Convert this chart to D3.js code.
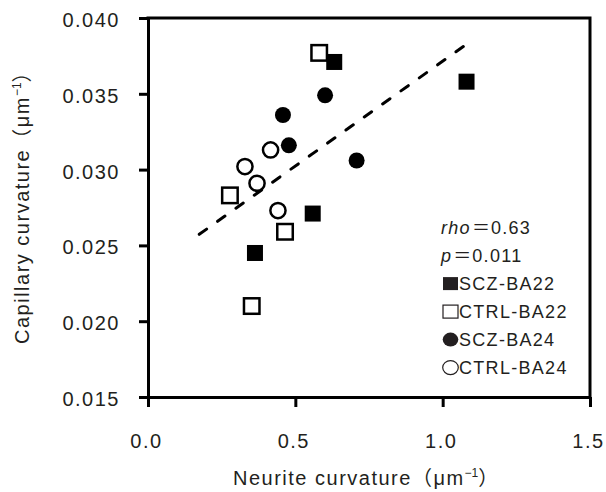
<!DOCTYPE html>
<html>
<head>
<meta charset="utf-8">
<script src="https://cdn.jsdelivr.net/npm/d3@7"></script>
<style>
  body { margin: 0; background: #fff; }
  svg { display: block; font-family: "Liberation Sans", Arial, "Noto Sans CJK JP", sans-serif; }
</style>
</head>
<body>
<svg id="chart" width="606" height="492"></svg>
<script>
// values
const sczBA22X = [0.632, 1.081, 0.559, 0.363];
const sczBA22Y = [0.0371, 0.0358, 0.0271, 0.0245];
const ctrlBA22X = [0.581, 0.278, 0.465, 0.352];
const ctrlBA22Y = [0.0377, 0.0283, 0.0259, 0.0210];
const sczBA24X = [0.601, 0.458, 0.478, 0.708];
const sczBA24Y = [0.0349, 0.0336, 0.0316, 0.0306];
const ctrlBA24X = [0.329, 0.416, 0.370, 0.441];
const ctrlBA24Y = [0.0302, 0.0313, 0.0291, 0.0273];

// dashed fit line end points
const fitX = [0.174, 1.079];
const fitY = [0.02573, 0.03824];

const xTicks = [0, 0.5, 1.0, 1.5];
const yTicks = [0.015, 0.020, 0.025, 0.030, 0.035, 0.040];
const statLines = [['rho', '0.63'], ['p', '0.011']];
const groups = ['SCZ-BA22', 'CTRL-BA22', 'SCZ-BA24', 'CTRL-BA24'];

const ink = '#231f20';
const svg = d3.select('#chart');

const x = d3.scaleLinear().domain([0, 1.5]).range([148, 590]);
const y = d3.scaleLinear().domain([0.015, 0.040]).range([397, 18]);

// frame (top / right)
svg.append('path')
    .attr('d', d3.line()([[x(0), y(0.040)], [x(1.5), y(0.040)], [x(1.5), y(0.015)]]))
    .attr('fill', 'none')
    .attr('stroke', '#000')
    .attr('stroke-width', 3)
    .attr('stroke-linecap', 'square');

const yAxis = svg.append('g')
    .attr('transform', 'translate(' + x(0) + ',0)')
    .call(d3.axisLeft(y).tickValues(yTicks).tickFormat(d3.format('.3f'))
        .tickSize(9).tickSizeOuter(0).tickPadding(19));

const xAxis = svg.append('g')
    .attr('transform', 'translate(0,' + y(0.015) + ')')
    .call(d3.axisBottom(x).tickValues(xTicks).tickFormat(d3.format('.1f'))
        .tickSize(10).tickSizeOuter(0));

[yAxis, xAxis].forEach(g => {
    g.select('.domain').attr('stroke', '#000').attr('stroke-width', 3);
    g.selectAll('.tick line').attr('stroke', '#000').attr('stroke-width', 3);
    g.selectAll('.tick text')
        .attr('fill', ink)
        .style('font-size', '20px')
        .style('letter-spacing', '1.5px');
});
yAxis.selectAll('.tick text').attr('dy', '8.5');
xAxis.selectAll('.tick text').attr('y', 51).attr('dy', 0).attr('dx', -2);

// axis titles
function title(sel, label) {
    sel.attr('fill', ink).style('font-size', '20px').style('letter-spacing', '1.5px');
    sel.append('tspan').text(label + '（μm');
    sel.append('tspan').attr('dy', -8).style('font-size', '12px').style('letter-spacing', '0px').text('−1');
    sel.append('tspan').attr('dy', 8).text('）');
}
svg.append('text').attr('x', 233).attr('y', 485).call(title, 'Neurite curvature');
svg.append('text').attr('transform', 'translate(29,344) rotate(-90)').call(title, 'Capillary curvature');

// fit line
svg.append('path')
    .attr('d', d3.line()(fitX.map((v, i) => [x(v), y(fitY[i])])))
    .attr('fill', 'none')
    .attr('stroke', '#000')
    .attr('stroke-width', 3)
    .attr('stroke-dasharray', '9,13.5')
    .attr('stroke-linecap', 'round');

// points
const pts = (xs, ys) => xs.map((v, i) => [v, ys[i]]);

svg.selectAll('.ctrl22')
    .data(pts(ctrlBA22X, ctrlBA22Y))
    .enter().append('rect')
    .attr('x', d => x(d[0]) - 7.75)
    .attr('y', d => y(d[1]) - 7.75)
    .attr('width', 15.5).attr('height', 15.5)
    .attr('fill', '#fff').attr('stroke', '#000').attr('stroke-width', 2.5);

svg.selectAll('.scz22')
    .data(pts(sczBA22X, sczBA22Y))
    .enter().append('rect')
    .attr('x', d => x(d[0]) - 8)
    .attr('y', d => y(d[1]) - 8)
    .attr('width', 16).attr('height', 16)
    .attr('fill', '#000');

svg.selectAll('.ctrl24')
    .data(pts(ctrlBA24X, ctrlBA24Y))
    .enter().append('circle')
    .attr('cx', d => x(d[0]))
    .attr('cy', d => y(d[1]))
    .attr('r', 7.6)
    .attr('fill', '#fff').attr('stroke', '#000').attr('stroke-width', 2.5);

svg.selectAll('.scz24')
    .data(pts(sczBA24X, sczBA24Y))
    .enter().append('circle')
    .attr('cx', d => x(d[0]))
    .attr('cy', d => y(d[1]))
    .attr('r', 8)
    .attr('fill', '#000');

// stats + legend
const leg = svg.append('g').attr('fill', ink).style('font-size', '18px').style('letter-spacing', '1.3px');
statLines.forEach((s, i) => {
    const t = leg.append('text').attr('x', 441).attr('y', 234 + 28 * i);
    t.append('tspan').style('font-style', 'italic').text(s[0]);
    t.append('tspan').style('font-family', '"Noto Sans CJK JP", sans-serif')
        .style('letter-spacing', '0px').attr('dx', 1).text('＝');
    t.append('tspan').attr('dx', 1).text(s[1]);
});
groups.forEach((g, i) => {
    const by = 290 + 28 * i, cx = 450.5, cy = by - 6.4;
    if (i < 2) {
        leg.append('rect')
            .attr('x', cx - 7.5).attr('y', cy - 6.5).attr('width', 15).attr('height', 13)
            .attr('fill', i === 0 ? ink : '#fff')
            .attr('stroke', ink).attr('stroke-width', i === 0 ? 0 : 1.2);
    } else {
        leg.append('ellipse')
            .attr('cx', cx).attr('cy', cy).attr('rx', 7.8).attr('ry', 7)
            .attr('fill', i === 2 ? ink : '#fff')
            .attr('stroke', ink).attr('stroke-width', i === 2 ? 0 : 1.2);
    }
    leg.append('text').attr('x', 459).attr('y', by).text(g);
});
</script>
</body>
</html>
